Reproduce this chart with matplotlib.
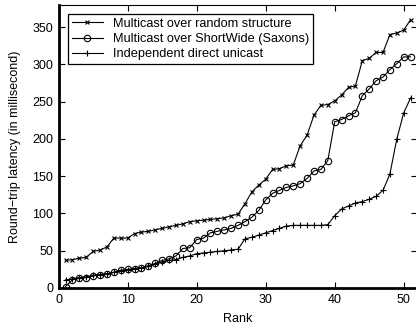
import matplotlib
matplotlib.use("Agg")
import matplotlib.pyplot as plt

plt.rcParams['font.family'] = ['Liberation Sans', 'DejaVu Sans']

ranks = list(range(1, 52))
random_structure = [37, 38, 40, 41, 49, 51, 55, 67, 67, 67, 73, 75, 76, 78, 80, 82, 84,
                    86, 89, 90, 91, 92, 93, 94, 97, 99, 113, 129, 138, 146, 159, 160, 164,
                    165, 191, 205, 232, 245, 246, 251, 259, 269, 271, 305, 308, 316, 316,
                    340, 342, 346, 360]
shortwide = [2, 11, 13, 14, 16, 18, 19, 21, 24, 25, 26, 27, 30, 33, 37, 39, 43,
             53, 54, 65, 67, 74, 76, 78, 80, 84, 89, 95, 104, 118, 127, 131, 135,
             137, 140, 147, 157, 159, 171, 223, 226, 231, 235, 258, 267, 278, 283,
             293, 301, 310, 310]
unicast = [11, 12, 14, 15, 17, 18, 19, 21, 23, 24, 26, 27, 29, 32, 35, 37, 38,
           41, 43, 46, 47, 48, 49, 50, 51, 52, 66, 68, 71, 74, 77, 80, 83,
           84, 84, 84, 84, 84, 85, 97, 106, 110, 114, 116, 119, 123, 131,
           153, 200, 235, 255]
labels = ["Multicast over random structure",
          "Multicast over ShortWide (Saxons)",
          "Independent direct unicast"]

fig = plt.figure(figsize=(4.16, 3.25), dpi=100)
ax = fig.add_axes([58.6 / 416, 1 - 288 / 325, (416.5 - 58.6) / 416, (288 - 4.7) / 325])

ax.plot(ranks, random_structure, color='black', lw=0.8, marker='x', ms=3, mew=0.8, label=labels[0])
ax.plot(ranks, shortwide, color='black', lw=0.8, marker='o', ms=4.6, mew=0.8, mfc='none', label=labels[1])
ax.plot(ranks, unicast, color='black', lw=0.8, marker='+', ms=5, mew=0.8, label=labels[2])

ax.set_xlim(0, 51.85)
ax.set_ylim(0, 380)
ax.set_xticks([0, 10, 20, 30, 40, 50])
ax.set_yticks(range(0, 351, 50))
ax.tick_params(direction='in', top=True, right=True, length=4, width=0.8, labelsize=9, pad=4)
for s in ['left', 'bottom']:
    ax.spines[s].set_linewidth(2)
for s in ['top', 'right']:
    ax.spines[s].set_linewidth(0.8)

ax.set_xlabel('Rank', fontsize=9, labelpad=5)
ax.set_ylabel('Round\u2212trip latency (in millisecond)', fontsize=9, labelpad=8)

leg = ax.legend(loc='upper left', bbox_to_anchor=(0.027, 0.967), fontsize=9.2, frameon=True,
                fancybox=False, edgecolor='black', framealpha=1, handlelength=2.4,
                borderpad=0.3, labelspacing=0.25, handletextpad=0.8, borderaxespad=0)
leg.get_frame().set_linewidth(0.9)

fig.savefig('out.png', dpi=100)
